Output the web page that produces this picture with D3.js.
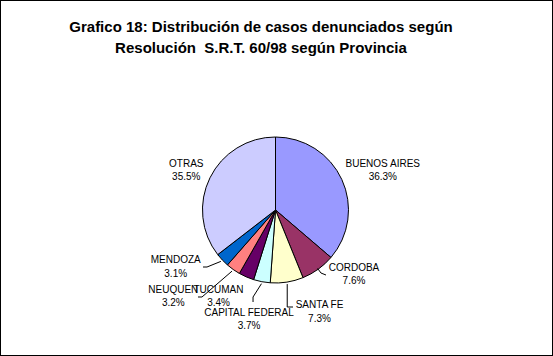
<!DOCTYPE html>
<html>
<head>
<meta charset="utf-8">
<script src="https://cdn.jsdelivr.net/npm/d3@7/dist/d3.min.js"></script>
<style>
  html, body { margin: 0; padding: 0; background: #fff; }
  svg { display: block; }
  text { font-family: "Liberation Sans", Arial, sans-serif; }
</style>
</head>
<body>
<script>
// ---- Data ----
const titleLines = ["Grafico 18: Distribución de casos denunciados según", "Resolución  S.R.T. 60/98 según Provincia"];
const provinces = ["BUENOS AIRES", "CORDOBA", "SANTA FE", "CAPITAL FEDERAL", "TUCUMAN", "NEUQUEN", "MENDOZA", "OTRAS"];
const shares = [36.3, 7.6, 7.3, 3.7, 3.4, 3.2, 3.1, 35.5];
const percentLabels = ["36.3%", "7.6%", "7.3%", "3.7%", "3.4%", "3.2%", "3.1%", "35.5%"];
const colors = ["#9999FF", "#993366", "#FFFFCC", "#CCFFFF", "#660066", "#FF8080", "#0066CC", "#CCCCFF"];

// ---- Layout ----
const W = 553, H = 356;
const cx = 275.5, cy = 210, R = 73;
// label offset from the slice's outer edge point (center x, first baseline)
const labelOffset = [[41, -12.8], [35.8, 1.5], [32.6, 26.2], [-12.8, 34], [-27.8, 15.8], [-59.9, 23.2], [-46.6, 3.3], [-23.7, -11.1]];
// leader lines: attach point relative to label, elbow type
const leaders = [
  { i: 1, attach: [-28, 4.3], elbow: "hL" },
  { i: 2, attach: [-26.5, -1.3], elbow: "vdown" },
  { i: 3, attach: [4, -13.7], elbow: "vup" },
  { i: 5, attach: [24.7, 4.3], elbow: "hR" },
  { i: 6, attach: [27.3, 3.7], elbow: "hR" }
];

const svg = d3.select("body").append("svg").attr("width", W).attr("height", H);
svg.append("rect").attr("x", 0.5).attr("y", 0.5).attr("width", W - 1).attr("height", H - 1)
  .attr("fill", "#fff").attr("stroke", "#000").attr("stroke-width", 1);

svg.selectAll("text.title").data(titleLines).enter().append("text")
  .attr("class", "title")
  .attr("x", 261).attr("y", (d, i) => 31.7 + i * 20.8)
  .attr("text-anchor", "middle")
  .style("font-size", "15px").style("font-weight", "bold").style("white-space", "pre")
  .text(d => d);

const pie = d3.pie().sort(null).value(d => d).startAngle(0).endAngle(2 * Math.PI);
const arcs = pie(shares);
const arc = d3.arc().innerRadius(0).outerRadius(R);

const g = svg.append("g").attr("transform", `translate(${cx},${cy})`);
g.selectAll("path").data(arcs).enter().append("path")
  .attr("d", arc)
  .attr("fill", (d, i) => colors[i])
  .attr("stroke", "#000").attr("stroke-width", 1).attr("stroke-linejoin", "round");

const mid = d => (d.startAngle + d.endAngle) / 2;
const edgePt = (d, r) => [cx + r * Math.sin(mid(d)), cy - r * Math.cos(mid(d))];

const labelPos = arcs.map((d, i) => {
  const p = edgePt(d, R);
  return [p[0] + labelOffset[i][0], p[1] + labelOffset[i][1]];
});

// leader lines
leaders.forEach(l => {
  const d = arcs[l.i];
  const s = edgePt(d, l.elbow === "hL" ? R - 1 : R + 2);
  const a = [labelPos[l.i][0] + l.attach[0], labelPos[l.i][1] + l.attach[1]];
  let e;
  if (l.elbow === "hL") e = [a[0] - 5, a[1] - 2];
  else if (l.elbow === "hR") e = [a[0] + 4, a[1]];
  else if (l.elbow === "vdown") e = [s[0], a[1]];
  else e = [a[0], a[1] - 5];
  svg.append("path")
    .attr("d", d3.line()([s, e, a]))
    .attr("fill", "none").attr("stroke", "#000").attr("stroke-width", 1);
});

// labels
const lg = svg.selectAll("g.lbl").data(arcs).enter().append("g").attr("class", "lbl");
lg.append("text")
  .attr("x", (d, i) => labelPos[i][0]).attr("y", (d, i) => labelPos[i][1])
  .attr("text-anchor", "middle").style("font-size", "10px")
  .text((d, i) => provinces[i]);
lg.append("text")
  .attr("x", (d, i) => labelPos[i][0]).attr("y", (d, i) => labelPos[i][1] + 13.3)
  .attr("text-anchor", "middle").style("font-size", "10px")
  .text((d, i) => percentLabels[i]);
</script>
</body>
</html>
